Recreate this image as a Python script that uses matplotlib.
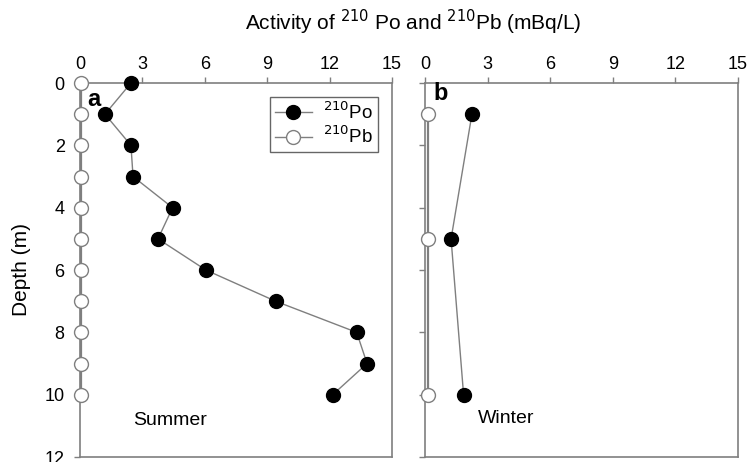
import matplotlib.pyplot as plt

plt.rcParams['font.family'] = ['Liberation Sans', 'DejaVu Sans']

# summer profile (panel a)
summer_depth = [0, 1, 2, 3, 4, 5, 6, 7, 8, 9, 10]
summer_po = [2.45, 1.2, 2.45, 2.55, 4.45, 3.75, 6.05, 9.4, 13.3, 13.8, 12.15]
summer_pb = [0.05, 0.05, 0.05, 0.05, 0.05, 0.05, 0.05, 0.05, 0.05, 0.05, 0.05]

# winter profile (panel b)
winter_depth = [1, 5, 10]
winter_po = [2.25, 1.25, 1.85]
winter_pb = [0.15, 0.15, 0.15]

x_ticks = [0, 3, 6, 9, 12, 15]
y_ticks = [0, 2, 4, 6, 8, 10, 12]

spine_col = '#7f7f7f'
line_col = '#7f7f7f'

fig = plt.figure(figsize=(7.49, 4.62), dpi=100)
ax1 = fig.add_axes([0.1068, 0.0108, 0.4166, 0.8095])
ax2 = fig.add_axes([0.5674, 0.0108, 0.4179, 0.8095])


def style_axes(ax, show_ylabels):
    ax.set_xlim(0, 15)
    ax.set_ylim(12, 0)
    ax.set_xticks(x_ticks)
    ax.set_yticks(y_ticks)
    ax.xaxis.tick_top()
    ax.tick_params(axis='both', direction='out', length=4, width=1,
                   color=spine_col, labelsize=13)
    ax.tick_params(axis='x', pad=3)
    ax.tick_params(axis='y', pad=7)
    if not show_ylabels:
        ax.set_yticklabels([])
    for s in ax.spines.values():
        s.set_color(spine_col)
        s.set_linewidth(1.2)


def plot_profile(ax, depth, po, pb):
    ax.plot(pb, depth, '-o', color=line_col, lw=1.6, ms=10,
            mfc='white', mec=line_col, mew=1.0, label='$^{210}$Pb', zorder=3)
    ax.plot(po, depth, '-o', color=line_col, lw=1.0, ms=10,
            mfc='black', mec='black', label='$^{210}$Po', zorder=4)


plot_profile(ax1, summer_depth, summer_po, summer_pb)
plot_profile(ax2, winter_depth, winter_po, winter_pb)
for ax in (ax1, ax2):
    for l in ax.lines:
        l.set_clip_on(False)

style_axes(ax1, True)
style_axes(ax2, False)

# legend order: Po first
h, lab = ax1.get_legend_handles_labels()
leg = ax1.legend(h[::-1], lab[::-1], loc='upper right', bbox_to_anchor=(0.955, 0.963),
                 borderaxespad=0, fontsize=13.5, frameon=True, fancybox=False,
                 handlelength=2.0, borderpad=0.25, labelspacing=0.15, handletextpad=0.6)
leg.get_frame().set_edgecolor('#404040')
leg.get_frame().set_linewidth(1.0)
leg.legend_handles[1].set_linewidth(1.0)

ax1.text(0.045, 0.955, 'a', transform=ax1.transAxes, fontsize=17, fontweight='bold',
         va='center', ha='center')
ax2.text(0.05, 0.973, 'b', transform=ax2.transAxes, fontsize=17, fontweight='bold',
         va='center', ha='center')
ax1.text(0.17, 0.097, 'Summer', transform=ax1.transAxes, fontsize=14, va='center')
ax2.text(0.17, 0.103, 'Winter', transform=ax2.transAxes, fontsize=14, va='center')

fig.text(0.029, 0.416, 'Depth (m)', rotation=90, ha='center', va='center', fontsize=15)
fig.text(0.552, 0.952, 'Activity of $^{210}$ Po and $^{210}$Pb (mBq/L)',
         ha='center', va='center', fontsize=15)

fig.savefig('out.png', dpi=100)
